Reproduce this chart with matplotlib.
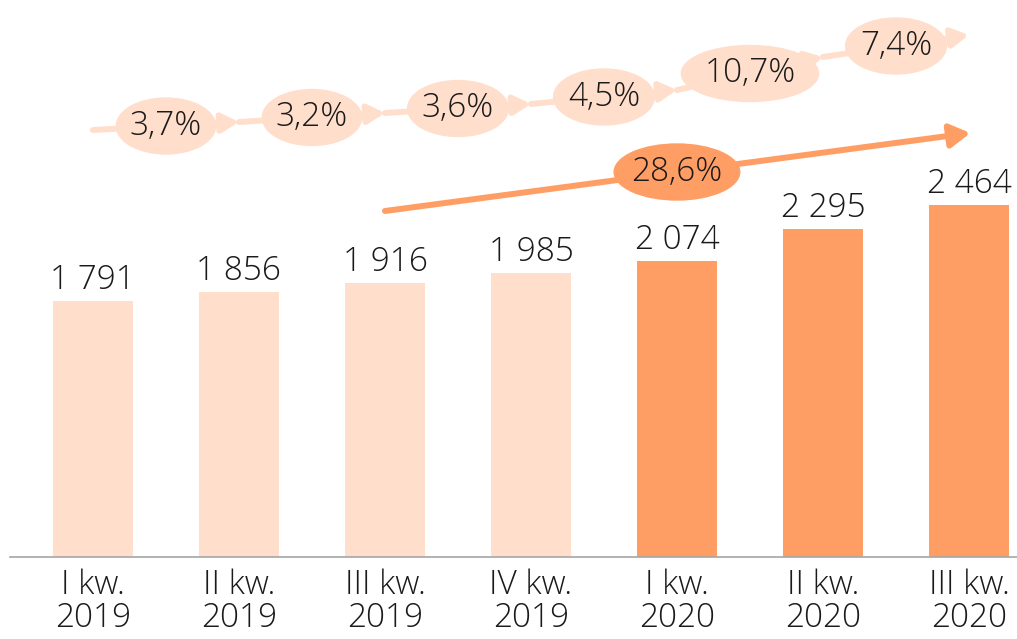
import matplotlib.pyplot as plt
from matplotlib.patches import Ellipse, FancyArrowPatch

quarters = ['I kw.\n2019', 'II kw.\n2019', 'III kw.\n2019', 'IV kw.\n2019',
            'I kw.\n2020', 'II kw.\n2020', 'III kw.\n2020']
values = [1791, 1856, 1916, 1985, 2074, 2295, 2464]
value_labels = ['1 791', '1 856', '1 916', '1 985', '2 074', '2 295', '2 464']
qoq_labels = ['3,7%', '3,2%', '3,6%', '4,5%', '10,7%', '7,4%']
yoy_label = '28,6%'

LIGHT = '#FFDECC'
DARK = '#FF9E64'
TXT = '#1A1A1A'
FONT = 'Open Sans'

# layout of the decorative growth chain (data units)
chain_y = [2989, 3045, 3108, 3171, 3269, 3500, 3654]
chain_w = [0.68, 0.68, 0.69, 0.69, 0.94, 0.69]
big_start = (2, 2422)
big_end = (6.01, 2968)

fig = plt.figure(figsize=(10.17, 6.39), dpi=100)
ax = fig.add_axes([10 / 1017, 1 - 557 / 639, 1007 / 1017, 557 / 639])

x = list(range(len(values)))
colors = [LIGHT] * 4 + [DARK] * 3
ax.bar(x, values, width=0.55, color=colors, zorder=2)

for xi, v, lab in zip(x, values, value_labels):
    ax.annotate(lab, (xi, v), xytext=(0, 3), textcoords='offset points',
                ha='center', va='bottom', fontsize=24, family=FONT,
                fontweight='light', color=TXT)

ax.set_xlim(-0.568, 6.329)
ax.set_ylim(0, 3899)
ax.set_xticks(x)
ax.set_xticklabels(quarters, fontsize=24, family=FONT, fontweight='light',
                   color=TXT, linespacing=1.0)
ax.tick_params(axis='x', length=0, pad=8)
ax.set_yticks([])
for s in ['top', 'left', 'right']:
    ax.spines[s].set_visible(False)
ax.spines['bottom'].set_color('#A6A6A6')
ax.spines['bottom'].set_linewidth(1.2)

# quarter-on-quarter chain
for i, lab in enumerate(qoq_labels):
    arr = FancyArrowPatch((i, chain_y[i]), (i + 1, chain_y[i + 1]),
                          arrowstyle='-|>,head_length=0.5,head_width=0.28',
                          mutation_scale=20, color=LIGHT, lw=4.3,
                          shrinkA=0, shrinkB=0, zorder=3, clip_on=False)
    ax.add_patch(arr)
    cy = (chain_y[i] + chain_y[i + 1]) / 2
    ax.add_patch(Ellipse((i + 0.5, cy), chain_w[i], 392, color=LIGHT,
                         zorder=4, clip_on=False))
    ax.text(i + 0.5, cy, lab, ha='center', va='center', fontsize=24,
            family=FONT, fontweight='light', color=TXT, zorder=5)

# year-on-year arrow
big = FancyArrowPatch(big_start, big_end,
                      arrowstyle='-|>,head_length=0.6,head_width=0.35',
                      mutation_scale=20, color=DARK, lw=4.3,
                      shrinkA=0, shrinkB=0, zorder=3, clip_on=False)
ax.add_patch(big)
ax.add_patch(Ellipse((4, 2695), 0.86, 392, color=DARK, zorder=4))
ax.text(4, 2695, yoy_label, ha='center', va='center', fontsize=24,
        family=FONT, fontweight='light', color=TXT, zorder=5)

fig.savefig('out.png', dpi=100)
